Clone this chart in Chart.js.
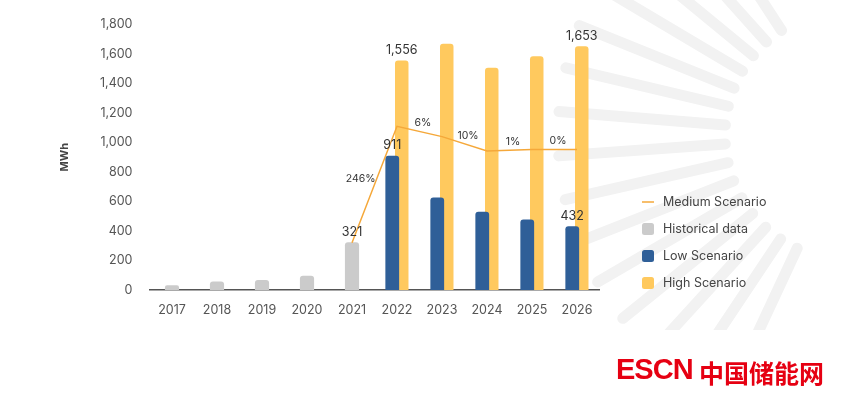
<!DOCTYPE html>
<html>
<head>
<meta charset="utf-8">
<script src="https://cdn.jsdelivr.net/npm/chart.js@4.4.1/dist/chart.umd.min.js"></script>
<style>
  html, body { margin: 0; padding: 0; background: #fff; }
  #wrap { position: relative; width: 847px; height: 395px; overflow: hidden; }
  .logo { position: absolute; color: #e60012; line-height: 1; white-space: nowrap; }
  #logo-en { left: 616px; top: 353px; font: bold 29px "Liberation Sans", Arial, sans-serif; letter-spacing: -1px; }
  #logo-cn { left: 699px; top: 354px; font: bold 25px "Noto Sans CJK SC", sans-serif; letter-spacing: 0px; }
</style>
</head>
<body>
<div id="wrap">
  <canvas id="chart" width="847" height="395"></canvas>
  <div class="logo" id="logo-en">ESCN</div>
  <div class="logo" id="logo-cn">中国储能网</div>
</div>
<script>
const years = ['2017', '2018', '2019', '2020', '2021', '2022', '2023', '2024', '2025', '2026'];
const historical = [30, 55, 65, 95, 321, null, null, null, null, null];
const lowScenario = [null, null, null, null, null, 911, 627, 531, 478, 432];
const highScenario = [null, null, null, null, null, 1556, 1670, 1506, 1584, 1653];
const mediumScenario = [null, null, null, null, 321, 1110, 1040, 943, 952, 952];
const growthLabels = ['246%', '6%', '10%', '1%', '0%'];
// which bars get a value label: [dataset index, year index]
const labelledBars = [[1, 4], [2, 5], [3, 5], [2, 9], [3, 9]];

const lineColor = '#f5a83a';
const grayColor = '#cbcbcb';
const blueColor = '#2f5f98';
const yellowColor = '#ffc95e';

Chart.defaults.font.family = 'Inter, "Liberation Sans", sans-serif';

const sunburst = {
  id: 'sunburst',
  beforeDraw(chart) {
    const ctx = chart.ctx;
    ctx.save();
    ctx.beginPath();
    ctx.rect(0, 0, chart.width, 330);
    ctx.clip();
    ctx.strokeStyle = '#f2f2f2';
    ctx.lineWidth = 11;
    ctx.lineCap = 'round';
    for (let a = 115; a <= 237; a += 8.7) {
      const r = a * Math.PI / 180;
      ctx.beginPath();
      ctx.moveTo(850 + 125 * Math.cos(r), 135 + 125 * Math.sin(r));
      ctx.lineTo(850 + 292 * Math.cos(r), 135 + 292 * Math.sin(r));
      ctx.stroke();
    }
    ctx.restore();
  }
};

const valueLabels = {
  id: 'valueLabels',
  afterDatasetsDraw(chart) {
    const ctx = chart.ctx;
    ctx.save();
    ctx.fillStyle = '#333';
    ctx.font = '12.5px Inter, sans-serif';
    ctx.textAlign = 'center';
    ctx.textBaseline = 'bottom';
    labelledBars.forEach(([ds, i]) => {
      const bar = chart.getDatasetMeta(ds).data[i];
      const v = chart.data.datasets[ds].data[i];
      ctx.fillText(v.toLocaleString('en-US'), bar.x, bar.y - 4);
    });

    // growth rates of the medium scenario, one per segment
    const pts = chart.getDatasetMeta(0).data;
    const first = mediumScenario.findIndex(v => v !== null);
    ctx.font = '10.5px Inter, sans-serif';
    growthLabels.forEach((t, k) => {
      const a = pts[first + k], b = pts[first + k + 1];
      const mx = (a.x + b.x) / 2, my = (a.y + b.y) / 2;
      const steep = Math.abs(b.y - a.y) > Math.abs(b.x - a.x);
      if (steep) {
        ctx.textAlign = 'right';
        ctx.fillText(t, mx + 1, my);
      } else {
        ctx.textAlign = 'center';
        ctx.fillText(t, mx + 3.5, my - 3);
      }
    });
    ctx.restore();
  }
};

const sideLegend = {
  id: 'sideLegend',
  afterDraw(chart) {
    const ctx = chart.ctx;
    ctx.save();
    ctx.font = '12.5px Inter, sans-serif';
    ctx.textBaseline = 'middle';
    ctx.textAlign = 'left';
    chart.data.datasets.forEach((ds, i) => {
      const y = 202 + i * 27;
      if (ds.type === 'line') {
        ctx.strokeStyle = ds.borderColor;
        ctx.lineWidth = 1.5;
        ctx.beginPath();
        ctx.moveTo(642, y);
        ctx.lineTo(654, y);
        ctx.stroke();
      } else {
        ctx.fillStyle = ds.backgroundColor;
        ctx.beginPath();
        ctx.roundRect(642, y - 6, 12, 12, 2.5);
        ctx.fill();
      }
      ctx.fillStyle = '#444';
      ctx.fillText(ds.label, 663, y);
    });
    ctx.restore();
  }
};

new Chart(document.getElementById('chart'), {
  type: 'bar',
  data: {
    labels: years,
    datasets: [
      {
        type: 'line',
        label: 'Medium Scenario',
        data: mediumScenario,
        borderColor: lineColor,
        backgroundColor: lineColor,
        borderWidth: 1.5,
        pointRadius: 0,
        spanGaps: false,
      },
      {
        label: 'Historical data',
        data: historical,
        backgroundColor: grayColor,
        grouped: false,
        barThickness: 13.5,
        borderRadius: { topLeft: 3, topRight: 3 },
        borderSkipped: false,
      },
      {
        label: 'Low Scenario',
        data: lowScenario,
        backgroundColor: blueColor,
        categoryPercentage: 0.422,
        barPercentage: 1.45,
        borderRadius: { topLeft: 3, topRight: 3 },
        borderSkipped: false,
      },
      {
        label: 'High Scenario',
        data: highScenario,
        backgroundColor: yellowColor,
        categoryPercentage: 0.422,
        barPercentage: 1.42,
        borderRadius: { topLeft: 3, topRight: 3 },
        borderSkipped: false,
      },
    ],
  },
  options: {
    responsive: false,
    animation: false,
    layout: {
      padding: { left: 50, right: 247.5, top: 21, bottom: 75 },
    },
    plugins: {
      legend: { display: false },
      tooltip: { enabled: false },
    },
    scales: {
      x: {
        offset: true,
        grid: { display: false, drawTicks: false },
        border: { display: true, color: '#555', width: 1.5 },
        ticks: { color: '#555', font: { size: 12.5 }, padding: 13 },
        afterFit(scale) { scale.height = 30; },
      },
      y: {
        min: 0,
        max: 1800,
        grid: { display: false, drawTicks: false },
        border: { display: false },
        ticks: {
          stepSize: 200,
          color: '#555',
          font: { size: 12.5 },
          padding: 17,
          callback: v => v.toLocaleString('en-US'),
        },
        title: {
          display: true,
          text: 'MWh',
          color: '#444',
          font: { size: 11, weight: 'bold' },
          padding: { top: 8, bottom: 0 },
        },
        afterFit(scale) { scale.width = 99.5; },
      },
    },
  },
  plugins: [sunburst, valueLabels, sideLegend],
});
</script>
</body>
</html>
